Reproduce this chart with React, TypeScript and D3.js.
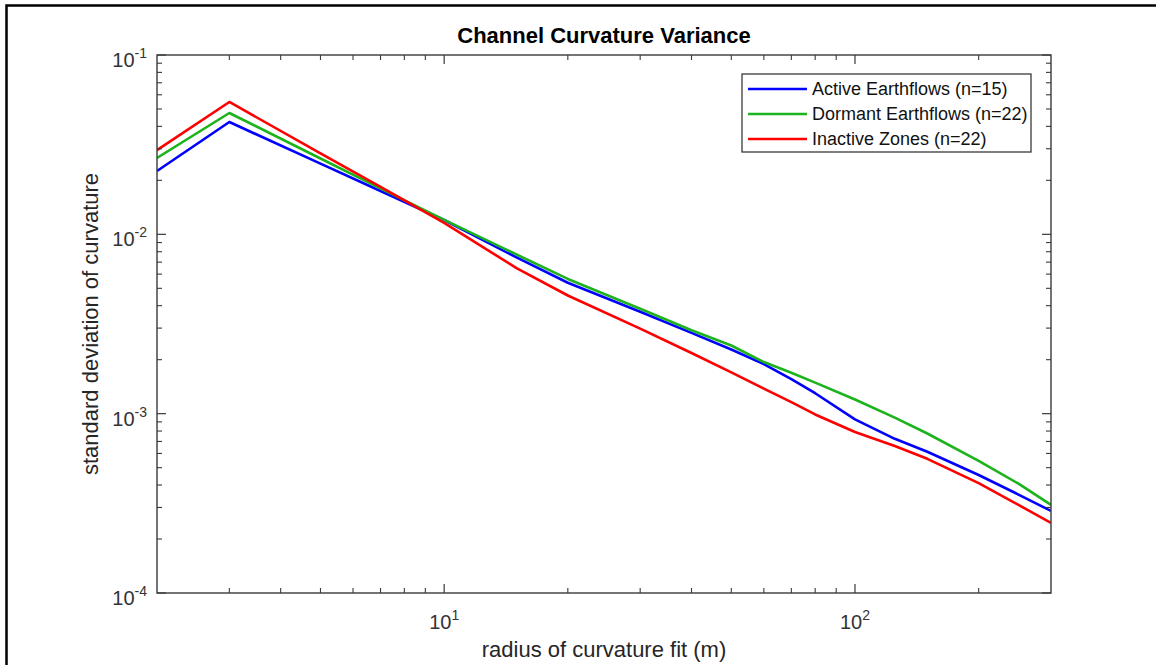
import React from "react";
import * as d3 from "d3";

const radii = [2, 3, 5, 7, 10, 15, 20, 30, 40, 50, 60, 70, 80, 100, 125, 150, 200, 250, 300];

const activeSd = [0.02254, 0.0423, 0.02477, 0.01744, 0.01202, 0.00743, 0.00537, 0.0037, 0.00282, 0.00228, 0.00189, 0.00156, 0.0013, 0.00093, 0.000724, 0.000613, 0.000455, 0.000354, 0.000287];
const dormantSd = [0.02664, 0.04748, 0.02647, 0.01806, 0.01204, 0.00772, 0.00564, 0.00385, 0.00292, 0.0024, 0.00194, 0.00169, 0.00149, 0.0012, 0.000951, 0.000775, 0.000545, 0.000407, 0.00031];
const inactiveSd = [0.0295, 0.0547, 0.0283, 0.0184, 0.0116, 0.00648, 0.00456, 0.00298, 0.00218, 0.0017, 0.00138, 0.00116, 0.00099, 0.00079, 0.00066, 0.00056, 0.00041, 0.00031, 0.000246];

const seriesNames = ["Active Earthflows (n=15)", "Dormant Earthflows (n=22)", "Inactive Zones (n=22)"];
const seriesColors = ["#0000ff", "#1db31d", "#ff0000"];

const xMajorTicks = [10, 100];
const xMajorExp = ["1", "2"];
const yMajorTicks = [1e-1, 1e-2, 1e-3, 1e-4];
const yMajorExp = ["-1", "-2", "-3", "-4"];

const titleText = "Channel Curvature Variance";
const xLabelText = "radius of curvature fit (m)";
const yLabelText = "standard deviation of curvature";

const W = 1156;
const H = 665;
const M = { left: 157, right: 1051, top: 55, bottom: 593 };
const FONT = "'Liberation Sans', Arial, Helvetica, sans-serif";
const AX = "#3a3a3a";

export default function App() {
  const x = d3.scaleLog().domain([2, 300]).range([M.left, M.right]);
  const y = d3.scaleLog().domain([1e-4, 1e-1]).range([M.bottom, M.top]);

  const all = [activeSd, dormantSd, inactiveSd];
  const line = d3
    .line<number>()
    .x((_, i) => x(radii[i]))
    .y((d) => y(d));

  const xMinor: number[] = [];
  for (const dec of [1, 10, 100]) {
    for (let k = 2; k <= 9; k++) {
      const v = k * dec;
      if (v > 2 && v < 300 && v !== 10 && v !== 100) xMinor.push(v);
    }
  }
  const yMinor: number[] = [];
  for (const dec of [1e-4, 1e-3, 1e-2]) {
    for (let k = 2; k <= 9; k++) yMinor.push(k * dec);
  }

  const majLen = 9;
  const minLen = 5;

  const legX = 742, legY = 74, legW = 289, legH = 78;
  const rowY = [89, 114, 139];

  return (
    <svg
      width={W}
      height={H}
      style={{ position: "absolute", left: 0, top: 0, background: "#fff" }}
      fontFamily={FONT}
    >
      <rect x={0} y={0} width={W} height={H} fill="#fff" />
      {/* outer frame (top and left visible) */}
      <rect x={6.5} y={5.5} width={W + 20} height={H + 20} fill="none" stroke="#000" strokeWidth={2.5} />

      {/* data lines */}
      <g clipPath="url(#plotclip)">
        {all.map((s, i) => (
          <path key={i} d={line(s) || ""} fill="none" stroke={seriesColors[i]} strokeWidth={2.6} strokeLinejoin="round" />
        ))}
      </g>
      <defs>
        <clipPath id="plotclip">
          <rect x={M.left} y={M.top - 2} width={M.right - M.left} height={M.bottom - M.top + 4} />
        </clipPath>
      </defs>

      {/* axes box */}
      <rect x={M.left} y={M.top} width={M.right - M.left} height={M.bottom - M.top} fill="none" stroke={AX} strokeWidth={1.4} />

      {/* x ticks */}
      {xMajorTicks.map((t) => (
        <g key={"xM" + t}>
          <line x1={x(t)} x2={x(t)} y1={M.bottom} y2={M.bottom - majLen} stroke={AX} strokeWidth={1.2} />
          <line x1={x(t)} x2={x(t)} y1={M.top} y2={M.top + majLen} stroke={AX} strokeWidth={1.2} />
        </g>
      ))}
      {xMinor.map((t) => (
        <g key={"xm" + t}>
          <line x1={x(t)} x2={x(t)} y1={M.bottom} y2={M.bottom - minLen} stroke={AX} strokeWidth={1.1} />
          <line x1={x(t)} x2={x(t)} y1={M.top} y2={M.top + minLen} stroke={AX} strokeWidth={1.1} />
        </g>
      ))}
      {/* y ticks */}
      {yMajorTicks.map((t) => (
        <g key={"yM" + t}>
          <line x1={M.left} x2={M.left + majLen} y1={y(t)} y2={y(t)} stroke={AX} strokeWidth={1.2} />
          <line x1={M.right} x2={M.right - majLen} y1={y(t)} y2={y(t)} stroke={AX} strokeWidth={1.2} />
        </g>
      ))}
      {yMinor.map((t) => (
        <g key={"ym" + t}>
          <line x1={M.left} x2={M.left + minLen} y1={y(t)} y2={y(t)} stroke={AX} strokeWidth={1.1} />
          <line x1={M.right} x2={M.right - minLen} y1={y(t)} y2={y(t)} stroke={AX} strokeWidth={1.1} />
        </g>
      ))}

      {/* x tick labels */}
      {xMajorTicks.map((t, i) => (
        <text key={"xl" + t} x={x(t)} y={M.bottom + 36} textAnchor="middle" fontSize={20} fill="#333">
          <tspan>10</tspan>
          <tspan dy={-9} fontSize={14}>{xMajorExp[i]}</tspan>
        </text>
      ))}
      {/* y tick labels */}
      {yMajorTicks.map((t, i) => (
        <text key={"yl" + t} x={M.left - 10} y={y(t) + 12} textAnchor="end" fontSize={20} fill="#333">
          <tspan>10</tspan>
          <tspan dy={-9} fontSize={14}>{yMajorExp[i]}</tspan>
        </text>
      ))}

      {/* title & labels */}
      <text x={(M.left + M.right) / 2} y={43} textAnchor="middle" fontSize={22} fontWeight="bold" fill="#000">
        {titleText}
      </text>
      <text x={(M.left + M.right) / 2} y={657} textAnchor="middle" fontSize={22} fill="#262626">
        {xLabelText}
      </text>
      <text
        transform={`translate(98, ${(M.top + M.bottom) / 2}) rotate(-90)`}
        textAnchor="middle"
        fontSize={22}
        fill="#262626"
      >
        {yLabelText}
      </text>

      {/* legend */}
      <rect x={legX} y={legY} width={legW} height={legH} fill="#fff" stroke={AX} strokeWidth={1.3} />
      {seriesNames.map((n, i) => (
        <g key={n}>
          <line x1={748} x2={807} y1={rowY[i]} y2={rowY[i]} stroke={seriesColors[i]} strokeWidth={2.6} />
          <text x={812} y={rowY[i]} dy="0.35em" fontSize={18} fill="#111">
            {n}
          </text>
        </g>
      ))}
    </svg>
  );
}
